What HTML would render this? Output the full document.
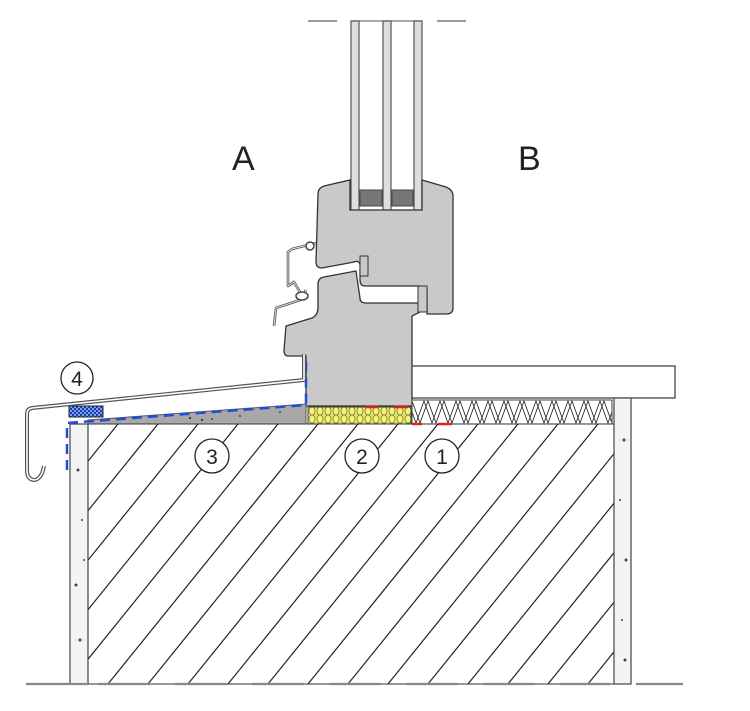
<!DOCTYPE html>
<html><head><meta charset="utf-8"><style>
html,body{margin:0;padding:0;background:#fff;width:750px;height:711px;overflow:hidden;}
svg{display:block;}
text{font-family:"Liberation Sans",sans-serif;fill:#222;}
</style></head><body>
<svg width="750" height="711" viewBox="0 0 750 711" xmlns="http://www.w3.org/2000/svg">
<defs>
<clipPath id="mas"><rect x="88" y="424" width="526" height="260"/></clipPath>
<clipPath id="woolc"><rect x="412" y="400" width="200" height="24"/></clipPath>
<pattern id="foam" x="308" y="407" width="8" height="8" patternUnits="userSpaceOnUse">
<rect width="8" height="8" fill="#e8e84a"/>
<ellipse cx="4" cy="4" rx="3" ry="4" fill="#f4f47a" stroke="#555" stroke-width="0.6"/>
</pattern>
<pattern id="chk" width="4" height="4" patternUnits="userSpaceOnUse">
<rect width="4" height="4" fill="#1a3fa8"/><rect width="2" height="2" fill="#7fa0e8"/><rect x="2" y="2" width="2" height="2" fill="#7fa0e8"/>
</pattern>
</defs>

<line x1="308" y1="21" x2="337" y2="21" stroke="#999" stroke-width="2"/>
<line x1="437" y1="21" x2="466" y2="21" stroke="#999" stroke-width="2"/>
<line x1="352" y1="21" x2="422" y2="21" stroke="#777" stroke-width="1.2"/>
<g fill="#ddd" stroke="#555" stroke-width="1.2">
<rect x="351" y="21" width="8" height="190"/>
<rect x="383" y="21" width="8" height="190"/>
<rect x="414" y="21" width="8" height="190"/>
</g>
<rect x="360" y="190" width="22" height="16" fill="#777" stroke="#444"/>
<rect x="392" y="190" width="21" height="16" fill="#777" stroke="#444"/>

<text x="232" y="170" font-size="34">A</text>
<text x="518" y="170" font-size="34">B</text>

<path d="M318,194 Q318,188 324,186 L350,180 L350,210 L422,210 L422,180 L446,187 Q453,190 453,196 L453,308 Q453,314 446,314 L427,314 L427,290 L420,286 L365,286 Q360,286 360,280 L360,264 Q358,260 354,262 L322,268 Q316,268 316,262 Z" fill="#c9c9c9" stroke="#333" stroke-width="1.3"/>
<path d="M286,326 L312,318 Q318,315 318,308 L318,284 Q318,278 324,277 L356,271 L360,298 Q360,303 366,303 L420,303 L420,312 L412,316 L412,406 L306,406 L306,356 L288,356 Q284,356 284,350 Z" fill="#c9c9c9" stroke="#333" stroke-width="1.3"/>
<rect x="418" y="286" width="9" height="26" fill="#c9c9c9" stroke="#333"/>
<rect x="360" y="256" width="8" height="20" fill="#c9c9c9" stroke="#333"/>
<g fill="none" stroke="#555" stroke-width="2.6" stroke-linejoin="round">
<polyline points="316,243 292,249 288,252 288,286 294,282 300,292"/>
<polyline points="306,290 300,300 276,308 274,326"/>
</g>
<g fill="none" stroke="#ddd" stroke-width="1">
<polyline points="316,243 292,249 288,252 288,286 294,282 300,292"/>
<polyline points="306,290 300,300 276,308 274,326"/>
</g>
<circle cx="310" cy="246" r="4" fill="#fff" stroke="#444" stroke-width="1.5"/>
<ellipse cx="302" cy="296" rx="6" ry="4" fill="#fff" stroke="#444" stroke-width="1.5"/>

<rect x="412" y="366" width="263" height="32" fill="#fff" stroke="#444" stroke-width="1.3"/>
<!-- mineral wool zigzag -->
<rect x="412" y="400" width="200" height="24" fill="#fff"/>
<g clip-path="url(#woolc)" fill="none" stroke="#333" stroke-width="0.9">
<path d="M412,401 L420,423 L428,401 L436,423 L444,401 L452,423 L460,401 L468,423 L476,401 L484,423 L492,401 L500,423 L508,401 L516,423 L524,401 L532,423 L540,401 L548,423 L556,401 L564,423 L572,401 L580,423 L588,401 L596,423 L604,401 L612,423"/>
<path d="M404,401 L412,423 L420,401 L428,423 L436,401 L444,423 L452,401 L460,423 L468,401 L476,423 L484,401 L492,423 L500,401 L508,423 L516,401 L524,423 L532,401 L540,423 L548,401 L556,423 L564,401 L572,423 L580,401 L588,423 L596,401 L604,423 L612,401" transform="translate(4,0)"/>
</g>
<rect x="412" y="400" width="200" height="24" fill="none" stroke="#444" stroke-width="1"/>
<rect x="308" y="407" width="103" height="17" fill="url(#foam)" stroke="#444" stroke-width="1"/>
<path d="M88,424 L88,420 L306,404 L306,424 Z" fill="#a8a8a8" stroke="#555" stroke-width="1"/>
<g fill="#444"><circle cx="190" cy="418" r="1.2"/><circle cx="202" cy="420" r="1.2"/><circle cx="212" cy="419" r="1"/><circle cx="240" cy="416" r="1"/><circle cx="280" cy="412" r="1"/></g>

<rect x="88" y="424" width="526" height="260" fill="#fff" stroke="#333" stroke-width="1"/>
<g clip-path="url(#mas)" stroke="#222" stroke-width="1.2">
<line x1="78" y1="424" x2="-132" y2="684"/>
<line x1="118" y1="424" x2="-92" y2="684"/>
<line x1="158" y1="424" x2="-52" y2="684"/>
<line x1="198" y1="424" x2="-12" y2="684"/>
<line x1="238" y1="424" x2="28" y2="684"/>
<line x1="278" y1="424" x2="68" y2="684"/>
<line x1="318" y1="424" x2="108" y2="684"/>
<line x1="358" y1="424" x2="148" y2="684"/>
<line x1="398" y1="424" x2="188" y2="684"/>
<line x1="438" y1="424" x2="228" y2="684"/>
<line x1="478" y1="424" x2="268" y2="684"/>
<line x1="518" y1="424" x2="308" y2="684"/>
<line x1="558" y1="424" x2="348" y2="684"/>
<line x1="598" y1="424" x2="388" y2="684"/>
<line x1="638" y1="424" x2="428" y2="684"/>
<line x1="678" y1="424" x2="468" y2="684"/>
<line x1="718" y1="424" x2="508" y2="684"/>
<line x1="758" y1="424" x2="548" y2="684"/>
<line x1="798" y1="424" x2="588" y2="684"/>
<line x1="838" y1="424" x2="628" y2="684"/>
</g>
<rect x="70" y="424" width="18" height="260" fill="#f4f4f4" stroke="#444" stroke-width="1.2"/>
<rect x="614" y="398" width="17" height="286" fill="#f4f4f4" stroke="#444" stroke-width="1.2"/>
<g fill="#444">
<circle cx="78" cy="470" r="1.5"/><circle cx="82" cy="520" r="1"/><circle cx="76" cy="585" r="1.5"/><circle cx="80" cy="640" r="1.5"/><circle cx="84" cy="560" r="1"/>
<circle cx="624" cy="440" r="1.5"/><circle cx="620" cy="500" r="1"/><circle cx="626" cy="560" r="1.5"/><circle cx="622" cy="620" r="1"/><circle cx="625" cy="660" r="1.5"/>
</g>
<g stroke="#888" stroke-width="2.2">
<line x1="26" y1="684" x2="88" y2="684"/>
<line x1="98" y1="684" x2="150" y2="684"/>
<line x1="175" y1="684" x2="227" y2="684"/>
<line x1="252" y1="684" x2="304" y2="684"/>
<line x1="329" y1="684" x2="381" y2="684"/>
<line x1="406" y1="684" x2="458" y2="684"/>
<line x1="483" y1="684" x2="535" y2="684"/>
<line x1="560" y1="684" x2="610" y2="684"/>
<line x1="636" y1="684" x2="683" y2="684"/>
</g>

<rect x="69" y="406" width="34" height="11" fill="url(#chk)" stroke="#223"/>
<path d="M67,470 L67,423 L306,405 L306,356" fill="none" stroke="#1d4fd8" stroke-width="2.5" stroke-dasharray="10,6"/>
<g stroke="#e02020" stroke-width="2.5">
<line x1="366" y1="407" x2="378" y2="407"/><line x1="394" y1="407" x2="408" y2="407"/>
<line x1="412" y1="424" x2="422" y2="424"/><line x1="438" y1="424" x2="452" y2="424"/>
</g>
<path d="M304,354 L304,380 L32,408 Q27,409 27,414 L27,470 Q27,480 35,480 Q42,478 44,466" fill="none" stroke="#555" stroke-width="4" stroke-linejoin="round"/>
<path d="M304,354 L304,380 L32,408 Q27,409 27,414 L27,470 Q27,480 35,480 Q42,478 44,466" fill="none" stroke="#fff" stroke-width="1.6" stroke-linejoin="round"/>

<g fill="#fff" stroke="#222" stroke-width="1.3">
<circle cx="77" cy="378" r="16"/>
<circle cx="212" cy="456" r="17"/>
<circle cx="362" cy="456" r="17"/>
<circle cx="442" cy="456" r="17"/>
</g>
<g font-size="21" text-anchor="middle">
<text x="77" y="386">4</text>
<text x="212" y="464">3</text>
<text x="362" y="464">2</text>
<text x="442" y="464">1</text>
</g>
</svg>
</body></html>
